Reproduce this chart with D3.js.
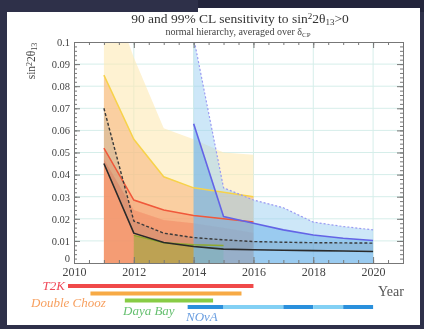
<!DOCTYPE html>
<html>
<head>
<meta charset="utf-8">
<script src="https://cdn.jsdelivr.net/npm/d3@7"></script>
<style>
  body { margin: 0; background: #2e3049; }
  svg { display: block; font-family: "Liberation Serif", "Times New Roman", Tinos, "DejaVu Serif", serif; }
</style>
</head>
<body>
<div id="chart-container"></div>
<script>
// Years for each experiment
const reactorYears = [2011, 2012, 2013, 2014, 2015, 2016];
const dayaBayYears = [2012, 2013, 2014, 2015];
const novaYears = [2014, 2015, 2016, 2017, 2018, 2019, 2020];
const globalYears = [2011, 2012, 2013, 2014, 2015, 2016, 2017, 2018, 2019, 2020];

// sin^2 2theta13 sensitivities
const doubleChoozOuter = [0.13, 0.093, 0.061, 0.056, 0.05, 0.049];
const doubleChoozInner = [0.085, 0.056, 0.039, 0.034, 0.032, 0.03];
const t2kLine = [0.052, 0.0285, 0.024, 0.0215, 0.02, 0.0185];
const t2kInner = [0.047, 0.024, 0.0195, 0.018, 0.016, 0.0137];
const dayaBayLine = [0.0125, 0.0092, 0.0083, 0.0079];
const novaOuter = [0.102, 0.034, 0.0285, 0.025, 0.0185, 0.0165, 0.015];
const novaInner = [0.063, 0.021, 0.018, 0.015, 0.0127, 0.0112, 0.0102];
const globalSolid = [0.045, 0.0135, 0.0093, 0.0075, 0.0063, 0.006, 0.0058, 0.0056, 0.0054, 0.0052];
const globalDashed = [0.07, 0.019, 0.0135, 0.0115, 0.0105, 0.0097, 0.0094, 0.0092, 0.0091, 0.009];

// Axis ticks
const xTickYears = [2010, 2012, 2014, 2016, 2018, 2020];
const yTickValues = [0, 0.01, 0.02, 0.03, 0.04, 0.05, 0.06, 0.07, 0.08, 0.09, 0.1];
const yTickLabels = ["0", "0.01", "0.02", "0.03", "0.04", "0.05", "0.06", "0.07", "0.08", "0.09", "0.1"];

// Running time bars below the plot
const runNames = ["T2K", "Double Chooz", "Daya Bay", "NOvA"];
const runStart = [2009.8, 2010.55, 2011.7, 2013.8];
const runEnd = [2016, 2015.6, 2014.65, 2020];
const novaSegStart = [2013.8, 2015, 2017, 2018, 2019];
const novaSegEnd = [2015, 2017, 2018, 2019, 2020];

const width = 424, height = 329;
const margin = { top: 42, right: 21, bottom: 66, left: 74 };

const svg = d3.select("#chart-container").append("svg")
  .attr("width", width).attr("height", height);

const defs = svg.append("defs");
defs.append("filter").attr("id", "soft")
  .append("feGaussianBlur").attr("stdDeviation", 0.45);

// slide background + white panel
svg.append("rect").attr("x", 198).attr("y", 0).attr("width", 226).attr("height", 12).attr("fill", "#23253c");
svg.append("rect").attr("x", 7).attr("y", 12).attr("width", 413).attr("height", 313).attr("fill", "#fff");
svg.append("rect").attr("x", 198).attr("y", 8).attr("width", 222).attr("height", 5).attr("fill", "#fff");

const root = svg.append("g").attr("filter", "url(#soft)");

const x = d3.scaleLinear().domain([2010, 2021]).range([margin.left, width - margin.right]);
const y = d3.scaleLinear().domain([0, 0.1]).range([height - margin.bottom, margin.top]);

defs.append("clipPath").attr("id", "plot-clip")
  .append("rect")
  .attr("x", x(2010)).attr("y", y(0.1))
  .attr("width", x(2021) - x(2010)).attr("height", y(0) - y(0.1));

// grid
const grid = root.append("g").attr("stroke", "#d6eeea").attr("stroke-width", 1);
grid.selectAll("line.h").data(yTickValues.slice(1, -1)).enter().append("line")
  .attr("x1", x(2010)).attr("x2", x(2021))
  .attr("y1", (d) => y(d)).attr("y2", (d) => y(d));
grid.selectAll("line.v").data(xTickYears.slice(1)).enter().append("line")
  .attr("x1", (d) => x(d)).attr("x2", (d) => x(d))
  .attr("y1", y(0)).attr("y2", y(0.1));

const plot = root.append("g").attr("clip-path", "url(#plot-clip)");

const zip = (years, vals) => years.map((yr, i) => ({ year: yr, v: vals[i] }));
const area = d3.area().x((d) => x(d.year)).y0(y(0)).y1((d) => y(d.v));
const line = d3.line().x((d) => x(d.year)).y((d) => y(d.v));

function addArea(years, vals, fill, opacity) {
  plot.append("path").datum(zip(years, vals))
    .attr("d", area).attr("fill", fill).attr("fill-opacity", opacity);
}
function addLine(years, vals, stroke, w, dash) {
  plot.append("path").datum(zip(years, vals))
    .attr("d", line).attr("fill", "none")
    .attr("stroke", stroke).attr("stroke-width", w)
    .attr("stroke-dasharray", dash || null);
}

// Double Chooz
addArea(reactorYears, doubleChoozOuter, "#fde9b4", 0.6);
addArea(reactorYears, doubleChoozInner, "#f6a060", 0.42);
// T2K
addArea(reactorYears, t2kLine, "#f08058", 0.35);
addArea(reactorYears, t2kInner, "#ee6848", 0.3);
// Daya Bay
addArea(dayaBayYears, dayaBayLine, "#8fa838", 0.55);
// NOvA
addArea(novaYears, novaOuter, "#9ccff2", 0.5);
addArea(novaYears, novaInner, "#5ea8e6", 0.45);
// global band
plot.append("path")
  .datum(globalYears.map((yr, i) => ({ year: yr, lo: globalSolid[i], hi: globalDashed[i] })))
  .attr("d", d3.area().x((d) => x(d.year)).y0((d) => y(d.lo)).y1((d) => y(d.hi)))
  .attr("fill", "#506070").attr("fill-opacity", 0.14);

addLine(reactorYears, doubleChoozInner, "#f7d24a", 1.5);
addLine(reactorYears, t2kLine, "#f0583a", 1.5);
addLine(dayaBayYears, dayaBayLine, "#8ea82e", 1.5);
addLine(novaYears, novaOuter, "#9a9af2", 1.2, "2,2");
addLine(novaYears, novaInner, "#6464e6", 1.6);
addLine(globalYears, globalDashed, "#3a3a3a", 1.4, "3,2");
addLine(globalYears, globalSolid, "#2a2a2a", 1.6);

// axes with inward ticks on all four sides
function styleAxis(g) {
  g.attr("font-family", null);
  g.select(".domain").attr("stroke", "#777");
  g.selectAll(".tick line").attr("stroke", "#777");
  g.selectAll("text").attr("fill", "#444").attr("font-size", 12);
}
const minorX = d3.range(2010, 2021.01, 0.5);
const minorY = d3.range(0, 0.1001, 0.002);

root.append("g").attr("transform", `translate(0,${y(0)})`)
  .call(d3.axisBottom(x).tickValues(xTickYears).tickFormat(d3.format("d")).tickSize(-6).tickPadding(4))
  .call(styleAxis);
root.append("g").attr("transform", `translate(0,${y(0)})`)
  .call(d3.axisBottom(x).tickValues(minorX).tickFormat("").tickSize(-3)).call(styleAxis);
root.append("g").attr("transform", `translate(0,${y(0.1)})`)
  .call(d3.axisTop(x).tickValues(xTickYears).tickFormat("").tickSize(-6)).call(styleAxis);
root.append("g").attr("transform", `translate(0,${y(0.1)})`)
  .call(d3.axisTop(x).tickValues(minorX).tickFormat("").tickSize(-3)).call(styleAxis);

root.append("g").attr("transform", `translate(${x(2010)},0)`)
  .call(d3.axisLeft(y).tickValues(yTickValues).tickFormat((d, i) => yTickLabels[i]).tickSize(-6).tickPadding(4))
  .call(styleAxis)
  .selectAll("text").attr("font-size", 10.5).attr("dy", (d) => (d === 0 ? "-0.1em" : "0.32em"));
root.append("g").attr("transform", `translate(${x(2010)},0)`)
  .call(d3.axisLeft(y).tickValues(minorY).tickFormat("").tickSize(-3)).call(styleAxis);
root.append("g").attr("transform", `translate(${x(2021)},0)`)
  .call(d3.axisRight(y).tickValues(yTickValues).tickFormat("").tickSize(-6)).call(styleAxis);
root.append("g").attr("transform", `translate(${x(2021)},0)`)
  .call(d3.axisRight(y).tickValues(minorY).tickFormat("").tickSize(-3)).call(styleAxis);

// titles
const title = root.append("text").attr("x", 240).attr("y", 23)
  .attr("text-anchor", "middle").attr("font-size", 13.5).attr("fill", "#333");
title.append("tspan").text("90 and 99% CL sensitivity to sin");
title.append("tspan").attr("dy", -4).attr("font-size", 9).text("2");
title.append("tspan").attr("dy", 4).text("2θ");
title.append("tspan").attr("dy", 2).attr("font-size", 9).text("13");
title.append("tspan").attr("dy", -2).text(">0");

const sub = root.append("text").attr("x", 238).attr("y", 35)
  .attr("text-anchor", "middle").attr("font-size", 10).attr("fill", "#444");
sub.append("tspan").text("normal hierarchy, averaged over δ");
sub.append("tspan").attr("dy", 2).attr("font-size", 7).text("CP");

const ylab = root.append("text")
  .attr("transform", "translate(35,61) rotate(-90)")
  .attr("text-anchor", "middle").attr("font-size", 11.5).attr("fill", "#444");
ylab.append("tspan").text("sin");
ylab.append("tspan").attr("dy", -3).attr("font-size", 8).text("2");
ylab.append("tspan").attr("dy", 3).text("2θ");
ylab.append("tspan").attr("dy", 2).attr("font-size", 8).text("13");

root.append("text").attr("x", 391).attr("y", 296).attr("text-anchor", "middle")
  .attr("font-size", 14).attr("fill", "#555").text("Year");

// running time bars
const barY = [286, 293.5, 300.5, 307];
const barColor = ["#f04848", "#f7aa44", "#88cc44", null];
const labelColor = ["#f04858", "#f7a060", "#66c070", "#6a9ee0"];
runNames.forEach((name, i) => {
  if (barColor[i]) {
    root.append("line")
      .attr("x1", x(runStart[i])).attr("x2", x(runEnd[i]))
      .attr("y1", barY[i]).attr("y2", barY[i])
      .attr("stroke", barColor[i]).attr("stroke-width", 4);
  }
});
root.selectAll("line.nova").data(novaSegStart).enter().append("line")
  .attr("x1", (d) => x(d)).attr("x2", (d, i) => x(novaSegEnd[i]))
  .attr("y1", barY[3]).attr("y2", barY[3])
  .attr("stroke", (d, i) => (i % 2 === 0 ? "#2a90dc" : "#82d0f4"))
  .attr("stroke-width", 4);

const labelPos = [[65, 290, "end"], [31, 307, "start"], [123, 315, "start"], [186, 321, "start"]];
runNames.forEach((name, i) => {
  root.append("text")
    .attr("x", labelPos[i][0]).attr("y", labelPos[i][1])
    .attr("text-anchor", labelPos[i][2])
    .attr("font-size", 13).attr("font-style", "italic")
    .attr("fill", labelColor[i]).text(name);
});
</script>
</body>
</html>
